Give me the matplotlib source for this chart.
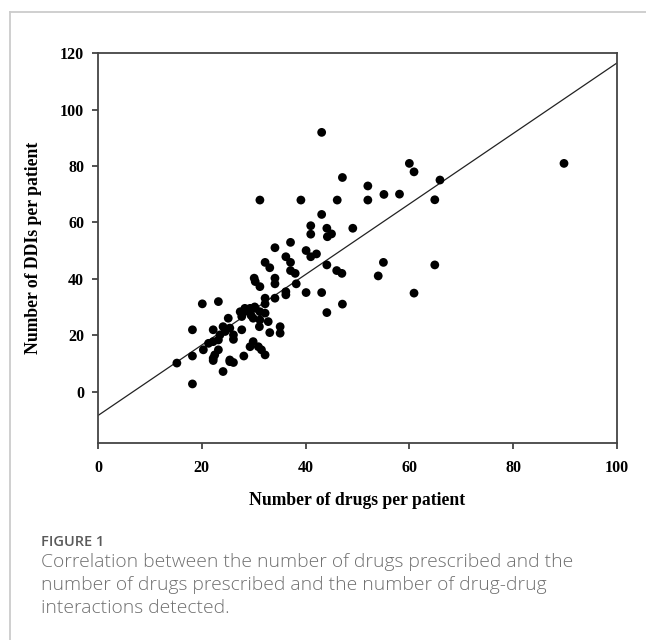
import numpy as np
import matplotlib
matplotlib.use("Agg")
import matplotlib.pyplot as plt
from matplotlib.lines import Line2D

# values
drugs = [15.2, 18.2, 18.2, 18.2, 20.1, 20.3, 21.3, 22.2, 22.2, 22.2,
         22.5, 23.2, 23.2, 23.2, 23.5, 24.1, 24.1, 24.5, 25.1, 25.4,
         25.4, 26.1, 26.1, 27.4, 27.7, 27.7, 28.1, 28.3, 29.3, 29.3,
         29.9, 29.9, 30.3, 30.1, 30.3, 30.9, 31.1, 31.2, 31.2, 31.2,
         31.2, 31.5, 32.2, 32.2, 32.2, 32.2, 32.2, 32.8, 33.1, 33.1,
         34.1, 34.1, 34.1, 34.1, 35.1, 35.1, 36.2, 36.2, 36.2, 37.1,
         37.1, 37.1, 38.0, 38.2, 39.1, 40.1, 40.1, 41.0, 41.0, 41.0,
         42.1, 43.1, 43.1, 43.1, 44.1, 44.2, 45.0, 44.1, 44.1, 46.0,
         47.0, 46.1, 47.1, 47.1, 49.1, 52.0, 52.0, 54.0, 55.0, 55.1,
         58.1, 60.0, 60.9, 60.9, 64.9, 64.9, 65.9, 89.8,
         22.2, 25.4, 26.1, 30.2, 28.3, 29.5]
ddis = [10.1, 2.7, 12.6, 21.9, 31.1, 14.8, 17.1, 17.7, 21.9, 11.8,
        13.0, 31.9, 18.3, 14.8, 20.1, 23.0, 7.1, 21.3, 26.0, 22.5,
        11.2, 20.1, 10.3, 28.3, 26.6, 21.9, 12.6, 29.5, 29.5, 15.9,
        26.0, 17.7, 29.5, 40.2, 39.0, 15.9, 23.0, 28.3, 25.4, 37.2,
        67.9, 14.8, 27.8, 33.1, 31.1, 13.0, 45.8, 24.8, 20.9, 43.9,
        33.1, 40.2, 38.2, 51.0, 23.0, 20.7, 35.4, 34.3, 47.8, 52.9,
        45.8, 42.9, 41.9, 38.2, 67.9, 50.0, 35.1, 58.8, 55.8, 47.8,
        48.8, 91.9, 62.8, 35.1, 57.9, 54.9, 55.9, 44.9, 28.0, 42.9,
        41.9, 67.9, 75.9, 31.0, 57.9, 72.9, 67.9, 41.0, 45.8, 69.9,
        70.0, 80.9, 77.9, 34.9, 68.0, 44.9, 75.0, 80.9,
        11.0, 10.6, 18.5, 30.0, 28.5, 27.0]

# regression line as drawn in the reference
fit_intercept = -8.5
fit_slope = 1.25

x_ticks = [0, 20, 40, 60, 80, 100]
y_ticks = [0, 20, 40, 60, 80, 100, 120]

fig = plt.figure(figsize=(6.46, 6.40), dpi=100)
ax = fig.add_axes([0.1517, 0.308, 0.8033, 0.609])

xl = np.array([0, 100])
ax.plot(xl, fit_intercept + fit_slope * xl, color="#222222", lw=0.9, zorder=2)
ax.scatter(drugs, ddis, s=40, color="black", edgecolors="none", zorder=3)

ax.set_xlim(0, 100)
ax.set_ylim(-18.2, 120)
ax.set_xticks(x_ticks)
ax.set_yticks(y_ticks)

serif = "Liberation Serif"
for lab in ax.get_xticklabels() + ax.get_yticklabels():
    lab.set_fontfamily(serif)
    lab.set_fontweight("bold")
    lab.set_fontsize(11.5)
ax.tick_params(axis="x", direction="out", length=4, width=1.2, pad=8, colors="#333333")
ax.tick_params(axis="y", direction="out", length=4, width=1.2, pad=6, colors="#333333")
for lab in ax.get_xticklabels() + ax.get_yticklabels():
    lab.set_color("black")
for sp in ax.spines.values():
    sp.set_linewidth(1.3)
    sp.set_color("#444444")

ax.set_xlabel("Number of drugs per patient", fontfamily=serif, fontweight="bold",
              fontsize=12.7, labelpad=12)
ax.set_ylabel("Number of DDIs per patient", fontfamily=serif, fontweight="bold",
              fontsize=12.7, labelpad=13)

# caption under the chart
fig.text(41 / 646, 1 - 542 / 640, "FIGURE 1", fontfamily="Open Sans", fontweight="semibold",
         fontsize=10.5, color="#5a5a5a", va="center", ha="left")
caption = ["Correlation between the number of drugs prescribed and the",
           "number of drugs prescribed and the number of drug-drug",
           "interactions detected."]
for i, line in enumerate(caption):
    fig.text(41 / 646, 1 - (562 + 23 * i) / 640, line, fontfamily="Open Sans",
             fontweight="light", fontsize=13.9, color="#707070", va="center", ha="left")

# page frame lines
fig.add_artist(Line2D([9.5 / 646, 9.5 / 646], [0, 1 - 12 / 640], transform=fig.transFigure,
                      color="#cccccc", lw=1.3))
fig.add_artist(Line2D([9.5 / 646, 1], [1 - 12 / 640, 1 - 12 / 640], transform=fig.transFigure,
                      color="#cccccc", lw=1.3))

fig.savefig("out.png", dpi=100)
